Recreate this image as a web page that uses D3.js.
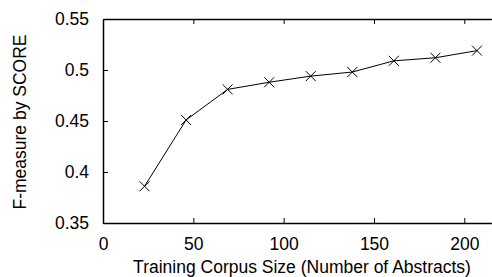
<!DOCTYPE html>
<html>
<head>
<meta charset="utf-8">
<script src="https://cdn.jsdelivr.net/npm/d3@7"></script>
<style>
  body { margin: 0; background: #fff; }
  text { font-family: "Liberation Sans", Arial, sans-serif; fill: #000; }
</style>
</head>
<body>
<svg width="492" height="277"></svg>
<script>
// corpus size (number of abstracts) and F-measure
const corpusSize = [23, 46, 69, 92, 115, 138, 161, 184, 207];
const fMeasure = [0.386, 0.451, 0.481, 0.488, 0.494, 0.498, 0.509, 0.512, 0.519];
const xTicks = [0, 50, 100, 150, 200];
const yTicks = [0.35, 0.4, 0.45, 0.5, 0.55];

const svg = d3.select("svg"),
  width = +svg.attr("width"),
  height = +svg.attr("height");

const mLeft = 103, mTop = 19, mBottom = 223;

const x = d3.scaleLinear().domain([0, 215]).range([mLeft, mLeft + 215 * (361.3 / 200)]);
const y = d3.scaleLinear().domain([0.35, 0.55]).range([mBottom, mTop]);

const fmt = d => String(d);
const fs = 17.5;

// bottom axis, ticks inward
svg.append("g")
  .attr("transform", "translate(0," + mBottom + ")")
  .call(d3.axisBottom(x).tickValues(xTicks).tickSizeInner(-5).tickSizeOuter(0).tickPadding(15).tickFormat(fmt))
  .call(g => g.select(".domain").attr("stroke-width", 1.5))
  .call(g => g.selectAll("text").attr("font-size", fs).attr("font-family", "Liberation Sans, Arial, sans-serif"));

// top mirror ticks
svg.append("g")
  .attr("transform", "translate(0," + mTop + ")")
  .call(d3.axisTop(x).tickValues(xTicks).tickSizeInner(-5).tickSizeOuter(0).tickFormat(""))
  .call(g => g.select(".domain").attr("stroke-width", 1.5));

// left axis
svg.append("g")
  .attr("transform", "translate(" + mLeft + ",0)")
  .call(d3.axisLeft(y).tickValues(yTicks).tickSizeInner(-5).tickSizeOuter(0).tickPadding(14).tickFormat(fmt))
  .call(g => g.select(".domain").attr("stroke-width", 1.5))
  .call(g => g.selectAll("text").attr("font-size", fs).attr("font-family", "Liberation Sans, Arial, sans-serif"));

// the line
svg.append("path")
  .datum(corpusSize.map((c, i) => [c, fMeasure[i]]))
  .attr("fill", "none")
  .attr("stroke", "#000")
  .attr("stroke-width", 1)
  .attr("d", d3.line().x(d => x(d[0])).y(d => y(d[1])));

// x markers
const s = 5;
svg.selectAll(".pt")
  .data(corpusSize.map((c, i) => [c, fMeasure[i]]))
  .enter()
  .append("path")
  .attr("class", "pt")
  .attr("fill", "none")
  .attr("stroke", "#000")
  .attr("stroke-width", 1)
  .attr("d", d => {
    const cx = x(d[0]), cy = y(d[1]);
    return `M${cx - s},${cy - s}L${cx + s},${cy + s}M${cx - s},${cy + s}L${cx + s},${cy - s}`;
  });

// axis titles
svg.append("text")
  .attr("x", 302)
  .attr("y", 273)
  .attr("text-anchor", "middle")
  .attr("font-size", fs)
  .text("Training Corpus Size (Number of Abstracts)");

svg.append("text")
  .attr("transform", "translate(26," + 122 + ") rotate(-90)")
  .attr("text-anchor", "middle")
  .attr("font-size", fs)
  .text("F-measure by SCORE");
</script>
</body>
</html>
